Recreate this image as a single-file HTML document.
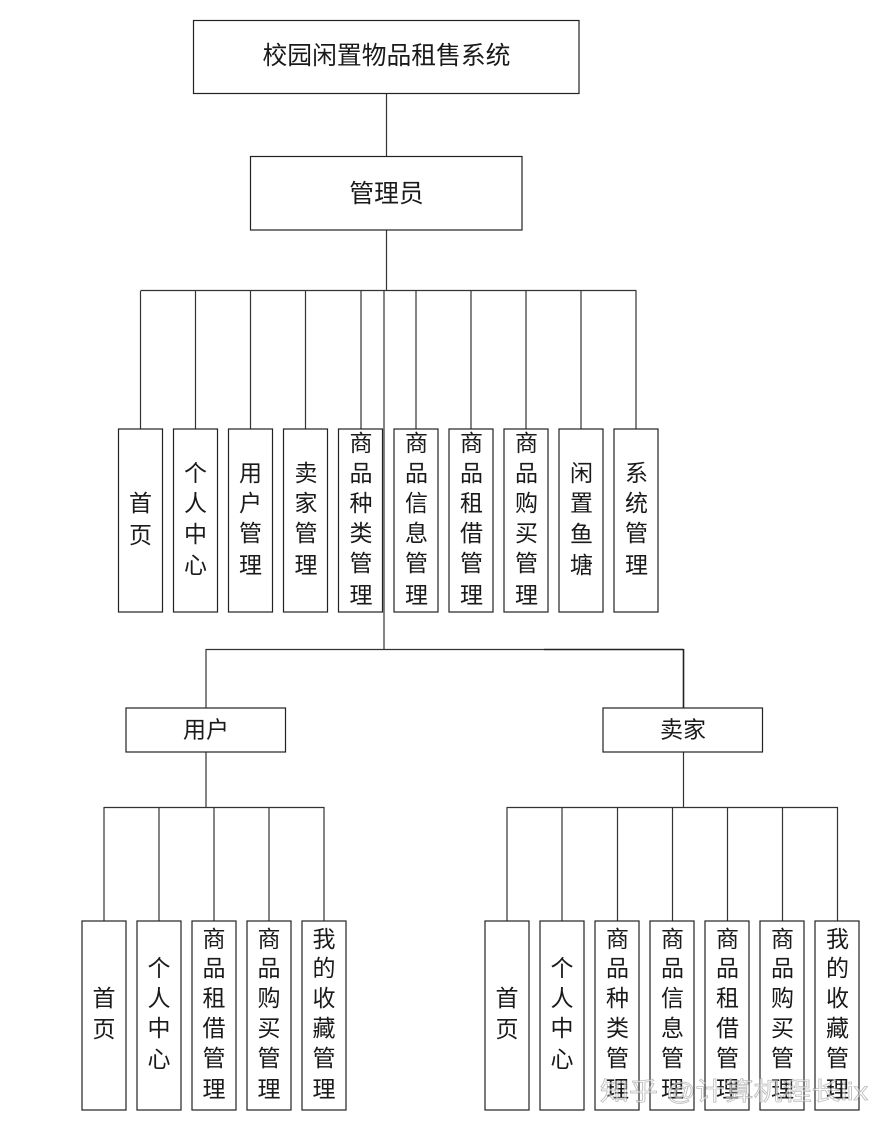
<!DOCTYPE html>
<html><head><meta charset="utf-8"><style>
html,body{margin:0;padding:0;background:#fff;width:890px;height:1128px;overflow:hidden}
svg{display:block}
text{font-family:"Liberation Sans","Noto Sans CJK SC",sans-serif;fill:#1a1a1a;text-anchor:middle;dominant-baseline:central}
rect{fill:#fff;stroke:#222;stroke-width:1.2}
path{fill:none;stroke:#333;stroke-width:1.2}
</style></head><body>
<svg width="890" height="1128" viewBox="0 0 890 1128" xmlns="http://www.w3.org/2000/svg">
<path d="M386.5 93V157M386.5 230V291M140.5 290.5H636.5M384 291V649M140.5 291V429M195.5 291V429M250.5 291V429M305.5 291V429M361 291V429M416 291V429M471 291V429M526 291V429M581 291V429M636 291V429"/>
<path d="M206 649.5H544M206 649V708M206 752V807M104 807.5H324.5M104 807V921M159 807V921M214 807V921M269 807V921M324 807V921"/>
<path d="M544 649.5H683.5M683.5 649V708" style="stroke-width:1.6;stroke:#222"/>
<path d="M683.5 752V807M507 807.5H838M507 807V921M562 807V921M617.5 807V921M672.5 807V921M727.5 807V921M782.5 807V921M837.5 807V921"/>
<rect x="193.5" y="20.5" width="385.5" height="73"/>
<rect x="250.5" y="156.5" width="271.5" height="73.5"/>
<rect x="118.5" y="429" width="44" height="183"/><rect x="173.5" y="429" width="44" height="183"/><rect x="228.5" y="429" width="44" height="183"/><rect x="283.5" y="429" width="44" height="183"/><rect x="338.5" y="429" width="44" height="183"/><rect x="394" y="429" width="44" height="183"/><rect x="449" y="429" width="44" height="183"/><rect x="504" y="429" width="44" height="183"/><rect x="559" y="429" width="44" height="183"/><rect x="614" y="429" width="44" height="183"/>
<rect x="126" y="708" width="159.5" height="44"/><rect x="603" y="708" width="159.5" height="44"/>
<rect x="82" y="921" width="44" height="189"/><rect x="137" y="921" width="44" height="189"/><rect x="192" y="921" width="44" height="189"/><rect x="247" y="921" width="44" height="189"/><rect x="302" y="921" width="44" height="189"/>
<rect x="485" y="921" width="44" height="189"/><rect x="540" y="921" width="44" height="189"/><rect x="595" y="921" width="44" height="189"/><rect x="650" y="921" width="44" height="189"/><rect x="705" y="921" width="44" height="189"/><rect x="760" y="921" width="44" height="189"/><rect x="815" y="921" width="44" height="189"/>
<g font-size="24.8"><text x="386.5" y="56.5">校园闲置物品租售系统</text><text x="386.5" y="194.5">管理员</text></g>
<g font-size="23">
<text x="206" y="729.5">用户</text><text x="683" y="729.5">卖家</text>
<text x="140.5" y="503">首</text><text x="140.5" y="535">页</text>
<text x="195.5" y="473">个</text><text x="195.5" y="503">人</text><text x="195.5" y="534">中</text><text x="195.5" y="565">心</text>
<text x="250.5" y="473">用</text><text x="250.5" y="503">户</text><text x="250.5" y="533">管</text><text x="250.5" y="565">理</text>
<text x="306" y="473">卖</text><text x="306" y="503">家</text><text x="306" y="533">管</text><text x="306" y="565">理</text>
<text x="361" y="443">商</text><text x="361" y="473">品</text><text x="361" y="503">种</text><text x="361" y="533">类</text><text x="361" y="563">管</text><text x="361" y="595">理</text>
<text x="416.5" y="443">商</text><text x="416.5" y="473">品</text><text x="416.5" y="503">信</text><text x="416.5" y="533">息</text><text x="416.5" y="563">管</text><text x="416.5" y="595">理</text>
<text x="471.5" y="443">商</text><text x="471.5" y="473">品</text><text x="471.5" y="503">租</text><text x="471.5" y="533">借</text><text x="471.5" y="563">管</text><text x="471.5" y="595">理</text>
<text x="526.5" y="443">商</text><text x="526.5" y="473">品</text><text x="526.5" y="503">购</text><text x="526.5" y="533">买</text><text x="526.5" y="563">管</text><text x="526.5" y="595">理</text>
<text x="581.5" y="473">闲</text><text x="581.5" y="503">置</text><text x="581.5" y="534">鱼</text><text x="581.5" y="565">塘</text>
<text x="636.5" y="473">系</text><text x="636.5" y="503">统</text><text x="636.5" y="533">管</text><text x="636.5" y="565">理</text>
<text x="104" y="998">首</text><text x="104" y="1029">页</text>
<text x="159" y="968">个</text><text x="159" y="998">人</text><text x="159" y="1028">中</text><text x="159" y="1059">心</text>
<text x="214" y="939">商</text><text x="214" y="968">品</text><text x="214" y="998">租</text><text x="214" y="1028">借</text><text x="214" y="1058">管</text><text x="214" y="1089">理</text>
<text x="269" y="939">商</text><text x="269" y="968">品</text><text x="269" y="998">购</text><text x="269" y="1028">买</text><text x="269" y="1058">管</text><text x="269" y="1089">理</text>
<text x="324" y="939">我</text><text x="324" y="968">的</text><text x="324" y="998">收</text><text x="324" y="1028">藏</text><text x="324" y="1058">管</text><text x="324" y="1089">理</text>
<text x="507" y="998">首</text><text x="507" y="1029">页</text>
<text x="562" y="968">个</text><text x="562" y="998">人</text><text x="562" y="1028">中</text><text x="562" y="1059">心</text>
<text x="617.5" y="939">商</text><text x="617.5" y="968">品</text><text x="617.5" y="998">种</text><text x="617.5" y="1028">类</text><text x="617.5" y="1058">管</text><text x="617.5" y="1089">理</text>
<text x="672.5" y="939">商</text><text x="672.5" y="968">品</text><text x="672.5" y="998">信</text><text x="672.5" y="1028">息</text><text x="672.5" y="1058">管</text><text x="672.5" y="1089">理</text>
<text x="727.5" y="939">商</text><text x="727.5" y="968">品</text><text x="727.5" y="998">租</text><text x="727.5" y="1028">借</text><text x="727.5" y="1058">管</text><text x="727.5" y="1089">理</text>
<text x="782.5" y="939">商</text><text x="782.5" y="968">品</text><text x="782.5" y="998">购</text><text x="782.5" y="1028">买</text><text x="782.5" y="1058">管</text><text x="782.5" y="1089">理</text>
<text x="837.5" y="939">我</text><text x="837.5" y="968">的</text><text x="837.5" y="998">收</text><text x="837.5" y="1028">藏</text><text x="837.5" y="1058">管</text><text x="837.5" y="1089">理</text>
</g>
<text x="734" y="1092" font-size="25" style="fill:#fff;fill-opacity:.55;stroke:#888;stroke-opacity:.55;stroke-width:.8" textLength="268" lengthAdjust="spacingAndGlyphs">知乎 @计算机程长lix</text>
</svg>
</body></html>
